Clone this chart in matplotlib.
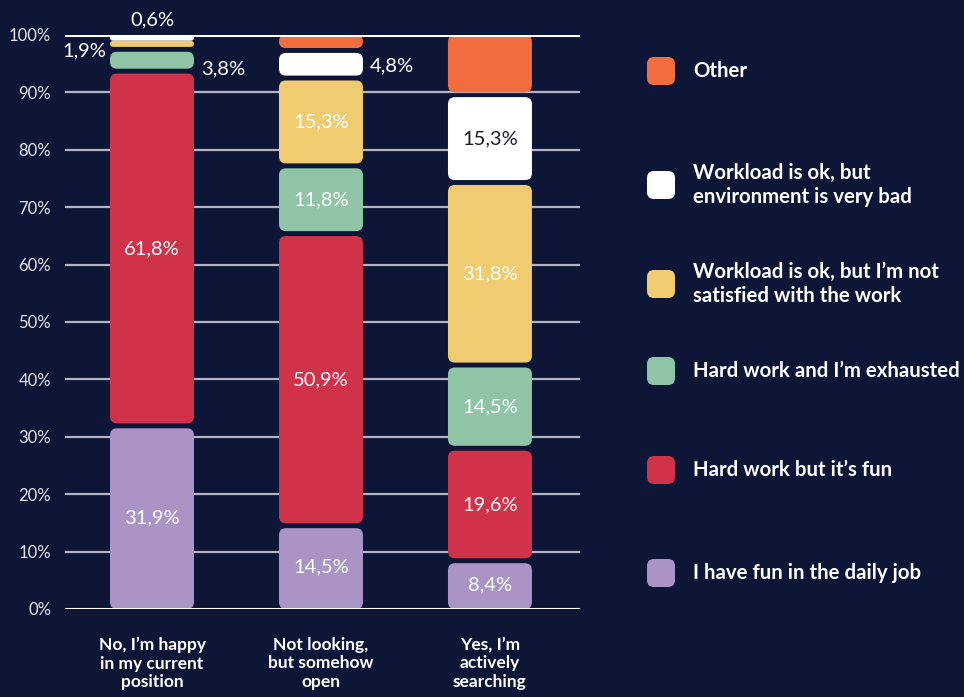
import numpy as np
import matplotlib.pyplot as plt
from matplotlib.patches import FancyBboxPatch

plt.rcParams['font.family'] = ['Lato', 'DejaVu Sans']

# survey answers, one list per stack level (bottom to top)
groups = ["No, I\u2019m happy\nin my current\nposition",
          "Not looking,\nbut somehow\nopen",
          "Yes, I\u2019m\nactively\nsearching"]
fun_daily   = [31.9, 14.5, 8.4]
hard_fun    = [61.8, 50.9, 19.6]
exhausted   = [3.8, 11.8, 14.5]
not_satisf  = [1.9, 15.3, 31.8]
bad_env     = [0.6, 4.8, 15.3]
other       = [0.0, 2.7, 10.4]

series_names = ["I have fun in the daily job", "Hard work but it\u2019s fun",
                "Hard work and I\u2019m exhausted",
                "Workload is ok, but I\u2019m not\nsatisfied with the work",
                "Workload is ok, but\nenvironment is very bad", "Other"]
series = [fun_daily, hard_fun, exhausted, not_satisf, bad_env, other]
colors = ["#a994c5", "#d03249", "#8fc4a7", "#f0cb70", "#ffffff", "#f26c40"]

BG = "#0d1637"
GRID = "#b4b3c4"

fig = plt.figure(figsize=(9.64, 6.97), dpi=100, facecolor=BG)
ax = fig.add_axes([0.0674, 0.1263, 0.5343, 0.8235], facecolor=BG)

xlo, xhi = -0.515, 2.533
ax.set_xlim(xlo, xhi)
ax.set_ylim(0, 100)

# pixel scale, used to keep the corner rounding circular
W = 0.5343 * 964
H = 0.8235 * 697
px_x = (xhi - xlo) / W
px_y = 100.0 / H
aspect = px_y / px_x

bar_w = 0.497
gap = 0.85
rad = 7 * px_x

for yv in range(10, 100, 10):
    ax.axhline(yv, color=GRID, lw=1.6, zorder=0)
ax.axhline(0, color="white", lw=2.2, zorder=5)
ax.axhline(100, color="white", lw=2.2, zorder=5)

x = np.arange(len(groups))
bottoms = np.zeros(len(groups))
for k, vals in enumerate(series):
    for i, v in enumerate(vals):
        b = bottoms[i]
        t = b + v
        if v <= 0:
            continue
        y0 = b + gap / 2 if b > 0 else b
        if t < 99.95:
            y1 = t - gap / 2
        else:
            y1 = t
            y0 = min(y0, y1 - 1.0)
        h = max(y1 - y0, 0.25)
        r = min(rad, h / 2 / aspect)
        patch = FancyBboxPatch((x[i] - bar_w / 2, y0), bar_w, h,
                               boxstyle="round,pad=0,rounding_size=%f" % r,
                               mutation_aspect=aspect,
                               fc=colors[k], ec="none", zorder=2)
        ax.add_patch(patch)
    bottoms += np.array(vals)

# value labels
FS = 14.5
bottoms = np.zeros(len(groups))
for k, vals in enumerate(series):
    for i, v in enumerate(vals):
        mid = bottoms[i] + v / 2
        txt = ("%.1f%%" % v).replace(".", ",")
        if k == 5:
            pass
        elif v >= 8:
            c = "#1a1a2e" if colors[k] == "#ffffff" else "white"
            ax.text(x[i], mid, txt, ha="center", va="center", fontsize=FS,
                    color=c, zorder=6)
        elif i == 0 and k == 4:
            ax.annotate(txt, (x[i], 100), xytext=(0, 5), textcoords="offset points",
                        ha="center", va="bottom", fontsize=FS, color="white",
                        annotation_clip=False)
        elif i == 0 and k == 3:
            ax.annotate(txt, (x[i] - bar_w / 2, mid), xytext=(-3, -5),
                        textcoords="offset points", ha="right", va="center",
                        fontsize=FS, color="white")
        else:
            ax.annotate(txt, (x[i] + bar_w / 2, mid), xytext=(5, -6 if i == 0 else -1),
                        textcoords="offset points", ha="left", va="center",
                        fontsize=FS, color="white")
    bottoms += np.array(vals)

ax.set_yticks(range(0, 101, 10))
ax.set_yticklabels(["%d%%" % v for v in range(0, 101, 10)], fontsize=12,
                   color="#e6e6ee")
ax.set_xticks(x)
ax.set_xticklabels(groups, fontsize=12.5, fontweight="bold", color="white",
                   linespacing=1.2)
ax.tick_params(length=0)
ax.tick_params(axis="y", pad=10)
ax.tick_params(axis="x", pad=20)
for s in ax.spines.values():
    s.set_visible(False)

# legend on the right, top entry is "Other"
leg_y = [71, 185, 284, 371, 470, 573]
sz = 28
for j, (name, col) in enumerate(zip(series_names[::-1], colors[::-1])):
    yc = leg_y[j]
    box = FancyBboxPatch(((647) / 964, 1 - (yc + sz / 2) / 697), sz / 964, sz / 697,
                         boxstyle="round,pad=0,rounding_size=%f" % (7 / 964),
                         mutation_aspect=964 / 697,
                         transform=fig.transFigure, fc=col, ec="none")
    fig.patches.append(box)
    fig.text(693 / 964, 1 - yc / 697, name, ha="left", va="center",
             fontsize=14.7, fontweight="bold", color="white", linespacing=1.2)

fig.savefig("out.png", dpi=100, facecolor=BG)
